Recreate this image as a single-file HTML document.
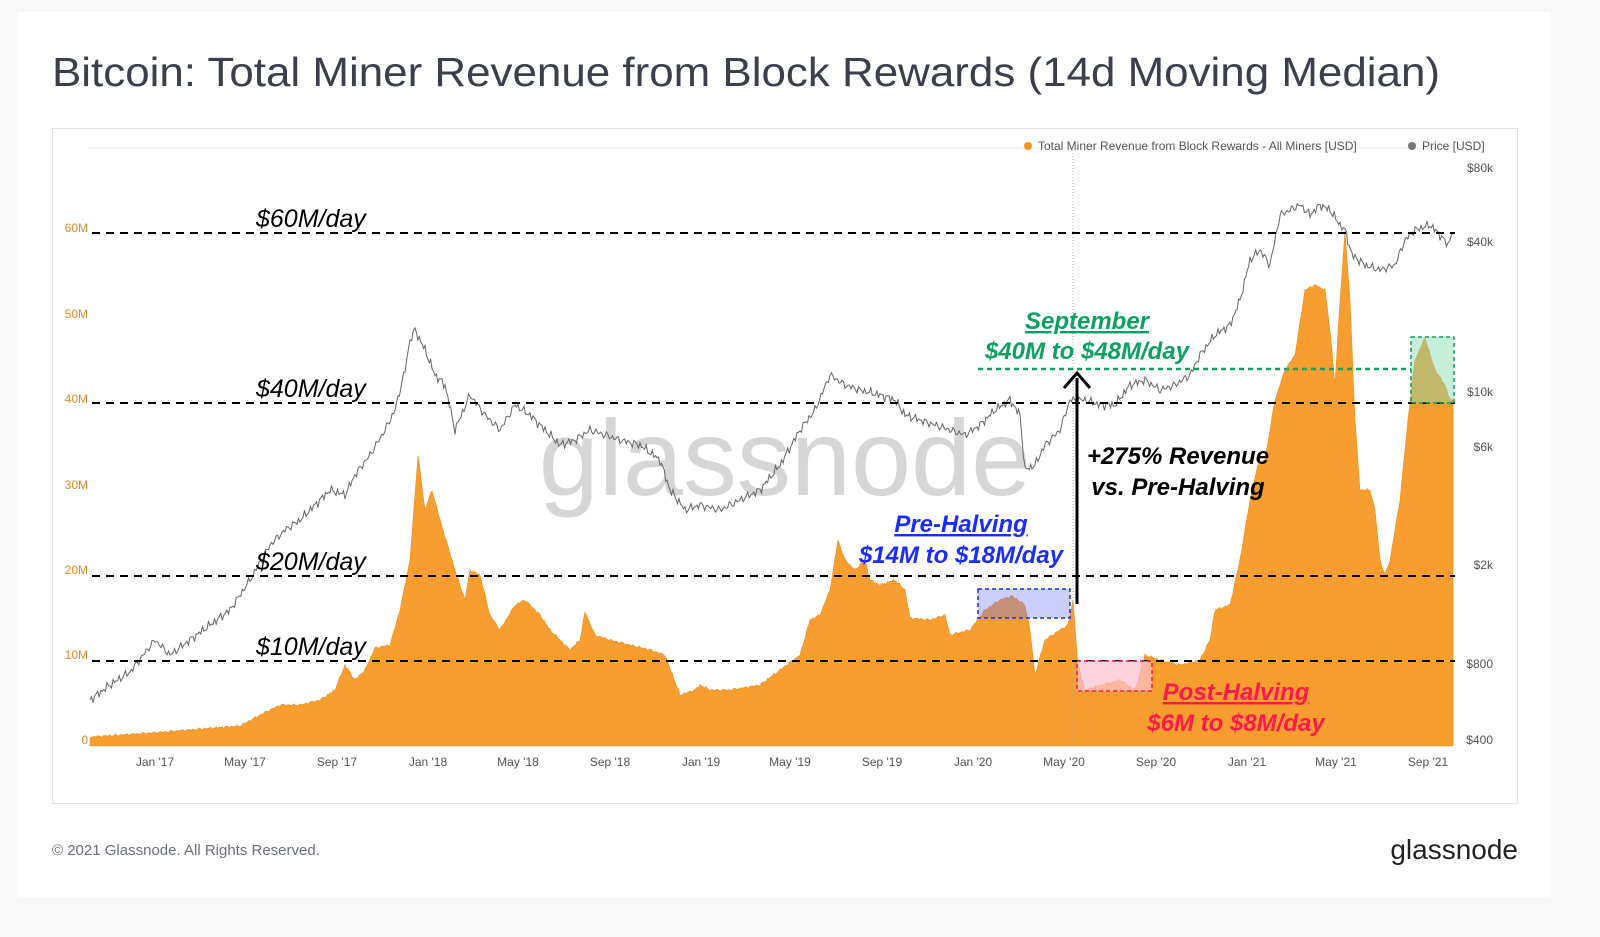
<!DOCTYPE html>
<html><head><meta charset="utf-8"><style>
html,body{margin:0;padding:0;background:#fff;width:1600px;height:937px;overflow:hidden;font-family:"Liberation Sans",sans-serif}
</style></head><body>
<svg width="1600" height="937" viewBox="0 0 1600 937" xmlns="http://www.w3.org/2000/svg" font-family="Liberation Sans, sans-serif">
<rect x="0" y="0" width="1600" height="937" fill="#f8f8f8"/>
<rect x="18" y="12" width="1532" height="885" fill="#fff"/>
<text x="52" y="86" font-size="41" fill="#3a3f4b" textLength="1388" lengthAdjust="spacingAndGlyphs">Bitcoin: Total Miner Revenue from Block Rewards (14d Moving Median)</text>
<rect x="52.5" y="128.5" width="1465" height="675" fill="#fff" stroke="#e3e3e3"/>
<text x="52" y="855" font-size="15" fill="#6b6f78">© 2021 Glassnode. All Rights Reserved.</text>
<text x="1518" y="859" font-size="28" fill="#222" text-anchor="end">glassnode</text>
<line x1="88" y1="148" x2="1455" y2="148" stroke="#eee"/>
<g font-size="12" fill="#555">
<circle cx="1028" cy="146" r="4" fill="#f7931a"/><text x="1038" y="150">Total Miner Revenue from Block Rewards - All Miners [USD]</text>
<circle cx="1412" cy="146" r="4" fill="#777"/><text x="1422" y="150">Price [USD]</text>
</g>
<text x="785" y="495" font-size="108" fill="#d6d6d6" text-anchor="middle">glassnode</text>
<g font-size="12" fill="#e08a2a" text-anchor="end">
<text x="88" y="744">0</text><text x="88" y="659">10M</text><text x="88" y="574">20M</text><text x="88" y="489">30M</text><text x="88" y="403">40M</text><text x="88" y="318">50M</text><text x="88" y="232">60M</text>
</g>
<g font-size="12" fill="#555" text-anchor="end">
<text x="1493" y="172">$80k</text><text x="1493" y="246">$40k</text><text x="1493" y="396">$10k</text><text x="1493" y="451">$6k</text><text x="1493" y="569">$2k</text><text x="1493" y="668">$800</text><text x="1493" y="744">$400</text>
</g>
<g font-size="12" fill="#555" text-anchor="middle">
<text x="155" y="766">Jan '17</text><text x="245" y="766">May '17</text><text x="337" y="766">Sep '17</text><text x="428" y="766">Jan '18</text><text x="518" y="766">May '18</text><text x="610" y="766">Sep '18</text><text x="701" y="766">Jan '19</text><text x="790" y="766">May '19</text><text x="882" y="766">Sep '19</text><text x="973" y="766">Jan '20</text><text x="1064" y="766">May '20</text><text x="1156" y="766">Sep '20</text><text x="1247" y="766">Jan '21</text><text x="1336" y="766">May '21</text><text x="1428" y="766">Sep '21</text>
</g>
<path id="rev" fill="#f7931a" fill-opacity="0.9" stroke="#f08c1a" stroke-width="0.6"/>
<polyline id="price" fill="none" stroke="#666" stroke-width="1"/>
<line x1="1073" y1="150" x2="1073" y2="746" stroke="#aaa" stroke-dasharray="1,2"/>
<g stroke="#000" stroke-width="2" stroke-dasharray="8,6">
<line x1="92" y1="233" x2="1455" y2="233"/><line x1="92" y1="403" x2="1455" y2="403"/><line x1="92" y1="576" x2="1455" y2="576"/><line x1="92" y1="661" x2="1455" y2="661"/>
</g>
<g font-size="25" font-style="italic" fill="#000">
<text x="256" y="227">$60M/day</text><text x="256" y="397">$40M/day</text><text x="256" y="570">$20M/day</text><text x="256" y="655">$10M/day</text>
</g>
<rect x="978" y="589" width="92" height="29" fill="#6b73ff" fill-opacity="0.35" stroke="#1a2cff" stroke-width="1.5" stroke-dasharray="4,3"/>
<rect x="1077" y="661" width="75" height="30" fill="#ffc0d0" fill-opacity="0.7" stroke="#ff1a4a" stroke-width="1.5" stroke-dasharray="4,3"/>
<rect x="1411" y="337" width="43" height="66" fill="#7ed9b0" fill-opacity="0.45" stroke="#0ea060" stroke-width="1.5" stroke-dasharray="4,3"/>
<line x1="978" y1="369" x2="1411" y2="369" stroke="#0ea060" stroke-width="2.5" stroke-dasharray="5,4"/>
<line x1="1077" y1="604" x2="1077" y2="378" stroke="#000" stroke-width="3"/>
<polyline points="1064,388 1077,373 1090,388" fill="none" stroke="#000" stroke-width="3"/>
<g font-size="24" font-style="italic" font-weight="bold" text-anchor="middle">
<text x="961" y="532" fill="#1a2cff" text-decoration="underline">Pre-Halving</text>
<text x="961" y="563" fill="#1a2cff">$14M to $18M/day</text>
<text x="1236" y="700" fill="#ff1a4a" text-decoration="underline">Post-Halving</text>
<text x="1236" y="731" fill="#ff1a4a">$6M to $8M/day</text>
<text x="1087" y="329" fill="#0ea060" text-decoration="underline">September</text>
<text x="1087" y="359" fill="#0ea060">$40M to $48M/day</text>
<text x="1178" y="464" fill="#000">+275% Revenue</text>
<text x="1178" y="495" fill="#000">vs. Pre-Halving</text>
</g>
</svg>
<script>
function interp(pts){var out=[];for(var i=0;i<pts.length-1;i++){var a=pts[i],b=pts[i+1];var n=Math.max(1,Math.round((b[0]-a[0])/1.5));for(var k=0;k<n;k++){var t=k/n;out.push([a[0]+(b[0]-a[0])*t,a[1]+(b[1]-a[1])*t]);}}out.push(pts[pts.length-1]);return out;}
function noise(i,s){return Math.sin(i*1.7+s)*0.5+Math.sin(i*3.1+s*2)*0.35+Math.sin(i*7.3)*0.25;}
var rev=[[90,737],[150,733],[200,729],[240,726],[260,715],[280,705],[300,705],[320,700],[335,690],[345,665],[355,680],[365,670],[375,648],[390,645],[400,610],[410,560],[418,455],[425,510],[432,490],[440,520],[455,570],[465,600],[470,570],[480,575],[490,615],[500,630],[515,605],[525,600],[540,615],[550,630],[570,650],[580,640],[585,612],[595,635],[610,640],[630,645],[650,650],[665,655],[680,695],[695,690],[700,685],[710,690],[730,690],[760,685],[780,670],[800,655],[810,620],[820,615],[830,590],[838,540],[845,560],[855,570],[865,560],[870,580],[880,585],[895,580],[905,590],[910,618],[930,620],[945,615],[950,635],[970,630],[985,610],[1000,600],[1012,596],[1025,605],[1030,630],[1035,675],[1045,640],[1060,630],[1068,625],[1073,600],[1078,665],[1085,690],[1100,685],[1120,680],[1135,690],[1145,655],[1160,660],[1180,665],[1200,660],[1210,640],[1215,610],[1230,605],[1240,560],[1250,500],[1258,465],[1265,460],[1275,400],[1285,370],[1295,355],[1305,290],[1315,285],[1325,290],[1330,330],[1335,385],[1340,300],[1345,232],[1350,300],[1355,420],[1360,490],[1370,490],[1375,510],[1380,560],[1385,575],[1390,560],[1400,500],[1408,420],[1415,360],[1425,338],[1435,370],[1445,385],[1450,400],[1453,400]];
var r=interp(rev);var d="M90,746 ";r.forEach(function(p,i){d+="L"+p[0].toFixed(1)+","+(p[1]+noise(i,1)*1.5).toFixed(1)+" ";});d+="L1453,746 Z";
document.getElementById("rev").setAttribute("d",d);
var pr=[[90,700],[110,685],[130,672],[155,640],[170,655],[190,640],[210,625],[230,610],[250,580],[270,545],[285,530],[300,520],[315,505],[330,490],[345,495],[355,475],[370,455],[385,430],[395,410],[405,370],[410,340],[415,330],[425,350],[435,375],[445,385],[455,430],[470,395],[485,415],[500,430],[515,405],[530,415],[545,430],[560,445],[575,440],[590,430],[605,435],[620,440],[640,445],[660,460],[670,490],[685,510],[700,505],[720,510],[740,500],[760,490],[780,465],[800,430],[815,410],[830,375],[845,385],[860,390],[880,395],[895,400],[905,415],[920,420],[935,425],[950,430],[965,435],[980,425],[995,410],[1010,400],[1020,415],[1025,470],[1035,465],[1045,445],[1060,430],[1070,400],[1085,400],[1100,405],[1115,405],[1130,385],[1145,380],[1160,390],[1175,385],[1190,375],[1200,355],[1215,335],[1230,325],[1240,300],[1250,260],[1260,250],[1270,265],[1280,215],[1290,210],[1300,205],[1310,215],[1320,205],[1330,210],[1340,225],[1345,230],[1352,255],[1365,265],[1380,270],[1395,265],[1405,240],[1415,230],[1430,225],[1440,235],[1448,245],[1453,230]];
var q=interp(pr);var s="";q.forEach(function(p,i){s+=p[0].toFixed(1)+","+(p[1]+noise(i,4)*5).toFixed(1)+" ";});
document.getElementById("price").setAttribute("points",s);
</script>
</body></html>
